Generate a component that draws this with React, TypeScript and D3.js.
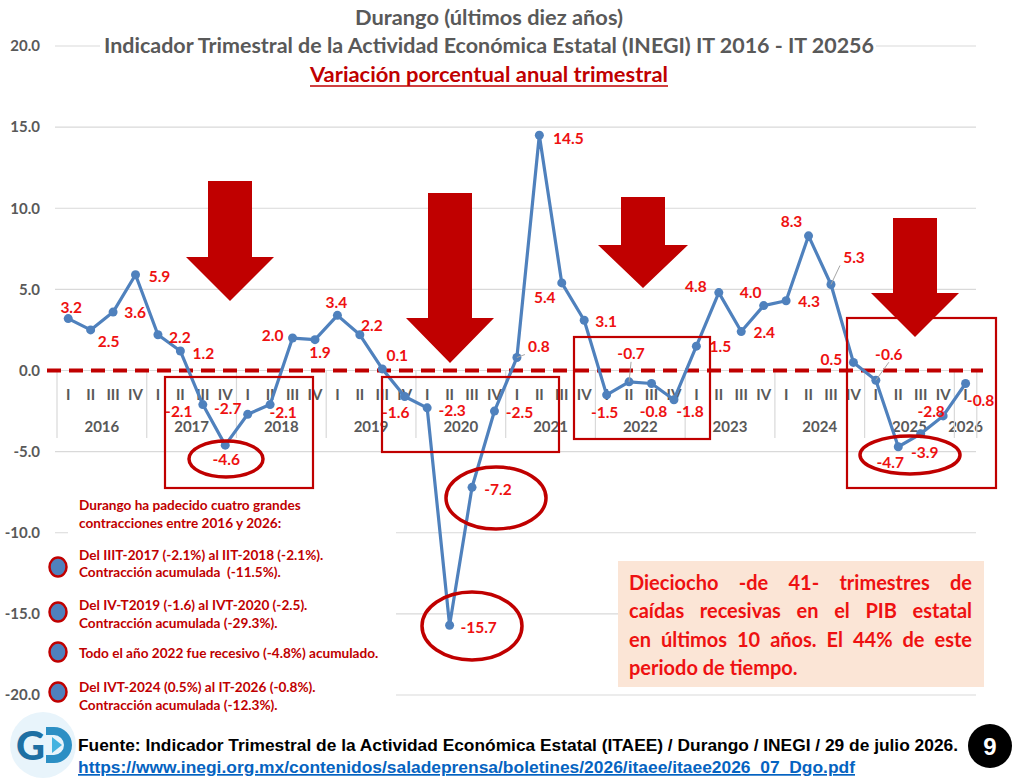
import React, { useMemo } from 'react';
import * as d3 from 'd3';

// chart data
const years = ['2016', '2017', '2018', '2019', '2020', '2021', '2022', '2023', '2024', '2025', '2026'];
const quarterNames = ['I', 'II', 'III', 'IV'];
const values = [
  3.2, 2.5, 3.6, 5.9,
  2.2, 1.2, -2.1, -4.6,
  -2.7, -2.1, 2.0, 1.9,
  3.4, 2.2, 0.1, -1.6,
  -2.3, -15.7, -7.2, -2.5,
  0.8, 14.5, 5.4, 3.1,
  -1.5, -0.7, -0.8, -1.8,
  1.5, 4.8, 2.4, 4.0,
  4.3, 8.3, 5.3, 0.5,
  -0.6, -4.7, -3.9, -2.8,
  -0.8,
];
const yTicks = [20, 15, 10, 5, 0, -5, -10, -15, -20];

const titleLines = [
  'Durango (últimos diez años)',
  'Indicador Trimestral de la Actividad Económica Estatal (INEGI) IT 2016 - IT 20256',
  'Variación porcentual anual trimestral',
];

const noteLines = [
  'Durango ha padecido cuatro grandes',
  'contracciones entre 2016 y 2026:',
];
const bulletItems = [
  ['Del IIIT-2017 (-2.1%) al IIT-2018 (-2.1%).', 'Contracción acumulada  (-11.5%).'],
  ['Del IV-T2019 (-1.6) al IVT-2020 (-2.5).', 'Contracción acumulada (-29.3%).'],
  ['Todo el año 2022 fue recesivo (-4.8%) acumulado.'],
  ['Del IVT-2024 (0.5%) al IT-2026 (-0.8%).', 'Contracción acumulada (-12.3%).'],
];
const boxLines = [
  'Dieciocho -de 41- trimestres de',
  'caídas recesivas en el PIB estatal',
  'en últimos 10 años. El 44% de este',
  'periodo de tiempo.',
];
const sourceText = 'Fuente: Indicador Trimestral de la Actividad Económica Estatal (ITAEE) / Durango / INEGI / 29 de julio 2026.';
const sourceUrl = 'https://www.inegi.org.mx/contenidos/saladeprensa/boletines/2026/itaee/itaee2026_07_Dgo.pdf';

// where each data label sits relative to its point (like Excel's manual label drags)
const labelOffsets: [number, number][] = [
  [3, -11], [18, 12], [22, 0], [24, 2],
  [22, 3], [23, 3], [-24, 7], [1, 14],
  [-20, -6], [13, 8], [-20, -2], [5, 13],
  [-1, -13], [12, -9], [15, -13], [-9, 16],
  [25, 3], [29, 2], [26, 2], [25, 2],
  [22, -11], [29, 3], [-17, 15], [22, 1],
  [-2, 18], [2, -28], [2, 28], [16, 12],
  [24, 0], [-23, -6], [23, 1], [-13, -13],
  [23, 1], [-17, -14], [23, -27], [-22, -3],
  [13, -26], [-8, 16], [4, 19], [-12, -4],
  [15, 17],
];
const leaderIdx = [20, 25, 34, 36];

// annotation shapes
const arrows = [
  { cx: 230, top: 181, headTop: 257, tip: 301, shaft: 22, head: 44 },
  { cx: 450, top: 193, headTop: 318, tip: 363, shaft: 22, head: 44 },
  { cx: 643, top: 197, headTop: 245, tip: 288, shaft: 22, head: 45 },
  { cx: 915, top: 218, headTop: 293, tip: 337, shaft: 22, head: 44 },
];
const boxes = [
  { x: 165, y: 377, w: 148, h: 111 },
  { x: 382, y: 377, w: 177, h: 75 },
  { x: 574, y: 337, w: 136, h: 102 },
  { x: 847, y: 318, w: 149, h: 170 },
];
const rings = [
  { cx: 226, cy: 459, rx: 37, ry: 18 },
  { cx: 496, cy: 498, rx: 50, ry: 31 },
  { cx: 472, cy: 626, rx: 50, ry: 34 },
  { cx: 910, cy: 455, rx: 50, ry: 19 },
];

const W = 1024;
const H = 784;
const FONT = 'Lato, "Open Sans", sans-serif';
const GRAY = '#595959';
const DARK_RED = '#C00000';
const RED = '#EE1111';
const BLUE = '#4F81BD';

function justify(text: string, width: number, font: string, last: boolean) {
  const ctx = document.createElement('canvas').getContext('2d')!;
  ctx.font = font;
  const words = text.split(' ');
  const ws = words.map(w => ctx.measureText(w).width);
  const total = ws.reduce((a, b) => a + b, 0);
  const gap = last ? ctx.measureText(' ').width : (width - total) / (words.length - 1);
  let x = 0;
  return words.map((w, i) => {
    const p = x;
    x += ws[i] + gap;
    return { w, x: p };
  });
}

const App = () => {
  const x = d3.scaleBand<number>()
    .domain(values.map((_, i) => i))
    .range([57, 976.8])
    .padding(0);
  const y = d3.scaleLinear().domain([-20, 20]).range([695, 46]);
  const cx = (i: number) => (x(i) as number) + x.bandwidth() / 2;

  const line = d3.line<number>()
    .x((_, i) => cx(i))
    .y(d => y(d));

  const boxFont = `bold 20px Lato`;
  const boxWords = useMemo(
    () => boxLines.map((l, i) => justify(l, 343, boxFont, i === boxLines.length - 1)),
    []
  );

  const arrowPath = (a: typeof arrows[0]) =>
    `M${a.cx - a.shaft},${a.top} H${a.cx + a.shaft} V${a.headTop} H${a.cx + a.head} L${a.cx},${a.tip} L${a.cx - a.head},${a.headTop} H${a.cx - a.shaft} Z`;

  const bulletY = [567, 612, 652, 692];
  const bulletTextY = [[560, 577], [610, 628], [658], [692, 710]];

  return (
    <svg width={W} height={H} style={{ position: 'fixed', left: 0, top: 0, background: '#fff' }}
      fontFamily={FONT}>
      {/* gridlines */}
      {yTicks.map(t => (
        <line key={t} x1={55} x2={976} y1={y(t)} y2={y(t)} stroke="#D9D9D9" strokeWidth={1.2} />
      ))}
      {yTicks.map(t => (
        <text key={t} x={40} y={y(t)} dy="0.35em" textAnchor="end" fontSize={15} fontWeight={700} fill={GRAY}>
          {t.toFixed(1)}
        </text>
      ))}

      {/* titles */}
      <rect x={100} y={34} width={776} height={24} fill="#fff" />
      <text x={489} y={25} textAnchor="middle" fontSize={20} fontWeight={700} fill={GRAY}
        textLength={268} lengthAdjust="spacingAndGlyphs">{titleLines[0]}</text>
      <text x={489} y={53} textAnchor="middle" fontSize={20} fontWeight={700} fill={GRAY}
        textLength={770} lengthAdjust="spacingAndGlyphs">{titleLines[1]}</text>
      <text x={489} y={82} textAnchor="middle" fontSize={20} fontWeight={700} fill={DARK_RED}
        textLength={358} lengthAdjust="spacingAndGlyphs">{titleLines[2]}</text>
      <line x1={310} x2={668} y1={86} y2={86} stroke={DARK_RED} strokeWidth={1.6} />

      {/* category axis: quarters and years */}
      {values.map((_, i) => (
        <text key={'q' + i} x={cx(i)} y={395} dy="0.35em" textAnchor="middle" fontSize={15}
          fontWeight={700} fill={GRAY}>{quarterNames[i % 4]}</text>
      ))}
      {years.map((yr, k) => {
        const first = k * 4;
        const lastI = Math.min(first + 3, values.length - 1);
        const mid = (cx(first) + cx(lastI)) / 2;
        return (
          <text key={yr} x={mid} y={427} dy="0.35em" textAnchor="middle" fontSize={15}
            fontWeight={700} fill={GRAY}>{yr}</text>
        );
      })}
      {d3.range(0, values.length + 1, 4).concat([values.length]).map(i => {
        const xx = i < values.length ? (x(i) as number) : 976.8;
        return <line key={'s' + i} x1={xx} x2={xx} y1={371} y2={438} stroke="#D9D9D9" strokeWidth={1.2} />;
      })}

      {/* note panel on the left */}
      <rect x={68} y={492} width={328} height={224} fill="#fff" />
      {noteLines.map((l, i) => (
        <text key={'n' + i} x={79} y={510 + i * 18} fontSize={13.6} fontWeight={700} fill={DARK_RED}
          style={{ whiteSpace: 'pre' }}>{l}</text>
      ))}
      {bulletItems.map((item, k) => (
        <g key={'b' + k}>
          <ellipse cx={58} cy={bulletY[k]} rx={8.5} ry={9.5} fill={BLUE} stroke={DARK_RED} strokeWidth={2.5} />
          {item.map((l, j) => (
            <text key={j} x={79} y={bulletTextY[k][j]} fontSize={13.6} fontWeight={700} fill={DARK_RED}
              style={{ whiteSpace: 'pre' }}>{l}</text>
          ))}
        </g>
      ))}

      {/* peach comment box */}
      <rect x={618} y={561} width={366} height={126} fill="#FBE5D6" />
      {boxWords.map((words, li) => (
        <text key={'w' + li} y={590 + li * 28.3} fontSize={20} fontWeight={700} fill={RED} fontFamily="Lato">
          {words.map((wd, wi) => (
            <tspan key={wi} x={629 + wd.x}>{wd.w}</tspan>
          ))}
        </text>
      ))}

      {/* zero line */}
      <line x1={47} x2={983} y1={y(0)} y2={y(0)} stroke={DARK_RED} strokeWidth={4} strokeDasharray="14,8" />

      {/* series */}
      <path d={line(values) || ''} fill="none" stroke={BLUE} strokeWidth={3.2} strokeLinejoin="round" />
      {values.map((v, i) => (
        <circle key={'p' + i} cx={cx(i)} cy={y(v)} r={4.5} fill={BLUE} />
      ))}
      {leaderIdx.map(i => {
        const [dx, dy] = labelOffsets[i];
        const px = cx(i);
        const py = y(values[i]);
        const lx = px + dx - (dx > 0 ? 14 : -14) * (Math.abs(dx) > 15 ? 1 : 0);
        const ly = py + dy + (dy < 0 ? 8 : -8);
        return (
          <polyline key={'l' + i} points={`${px},${py} ${lx},${ly}`} fill="none" stroke="#A6A6A6" strokeWidth={1} />
        );
      })}
      {values.map((v, i) => (
        <text key={'t' + i} x={cx(i) + labelOffsets[i][0]} y={y(v) + labelOffsets[i][1]} dy="0.35em"
          textAnchor="middle" fontSize={15.5} fontWeight={700} fill={RED}>{v.toFixed(1)}</text>
      ))}

      {/* highlights */}
      {boxes.map((b, i) => (
        <rect key={'r' + i} x={b.x} y={b.y} width={b.w} height={b.h} fill="none" stroke={DARK_RED} strokeWidth={2.2} />
      ))}
      {rings.map((r, i) => (
        <ellipse key={'e' + i} cx={r.cx} cy={r.cy} rx={r.rx} ry={r.ry} fill="none" stroke={DARK_RED} strokeWidth={3.5} />
      ))}
      {arrows.map((a, i) => (
        <path key={'a' + i} d={arrowPath(a)} fill={DARK_RED} />
      ))}

      {/* footer */}
      <circle cx={43} cy={745} r={33} fill="#E8F4FB" />
      <text x={16} y={760} fontSize={40} fontWeight={900} fill="#1D6FA3" fontFamily="Lato">G</text>
      <path d="M46,727 h8 a18,18 0 0 1 0,36 h-8 v-8 h8 a10,10 0 0 0 0,-20 h-8 Z" fill="#2C8FC4" />
      <path d="M52,737 L62,745 L52,753 Z" fill="#43B3E0" />
      <text x={78} y={751} fontSize={17} fontWeight={700} fill="#000"
        fontFamily='"Liberation Sans Narrow", "Liberation Sans", Arial, sans-serif'
        textLength={880} lengthAdjust="spacingAndGlyphs">{sourceText}</text>
      <text x={78} y={773} fontSize={17} fontWeight={700} fill="#0563C1" textDecoration="underline"
        fontFamily='"Liberation Sans Narrow", "Liberation Sans", Arial, sans-serif'
        textLength={777} lengthAdjust="spacingAndGlyphs">{sourceUrl}</text>
      <circle cx={990} cy={746} r={22} fill="#000" />
      <text x={990} y={746} dy="0.36em" textAnchor="middle" fontSize={24} fontWeight={700} fill="#fff"
        fontFamily='"Liberation Sans", Arial, sans-serif'>9</text>
    </svg>
  );
};

export default App;
